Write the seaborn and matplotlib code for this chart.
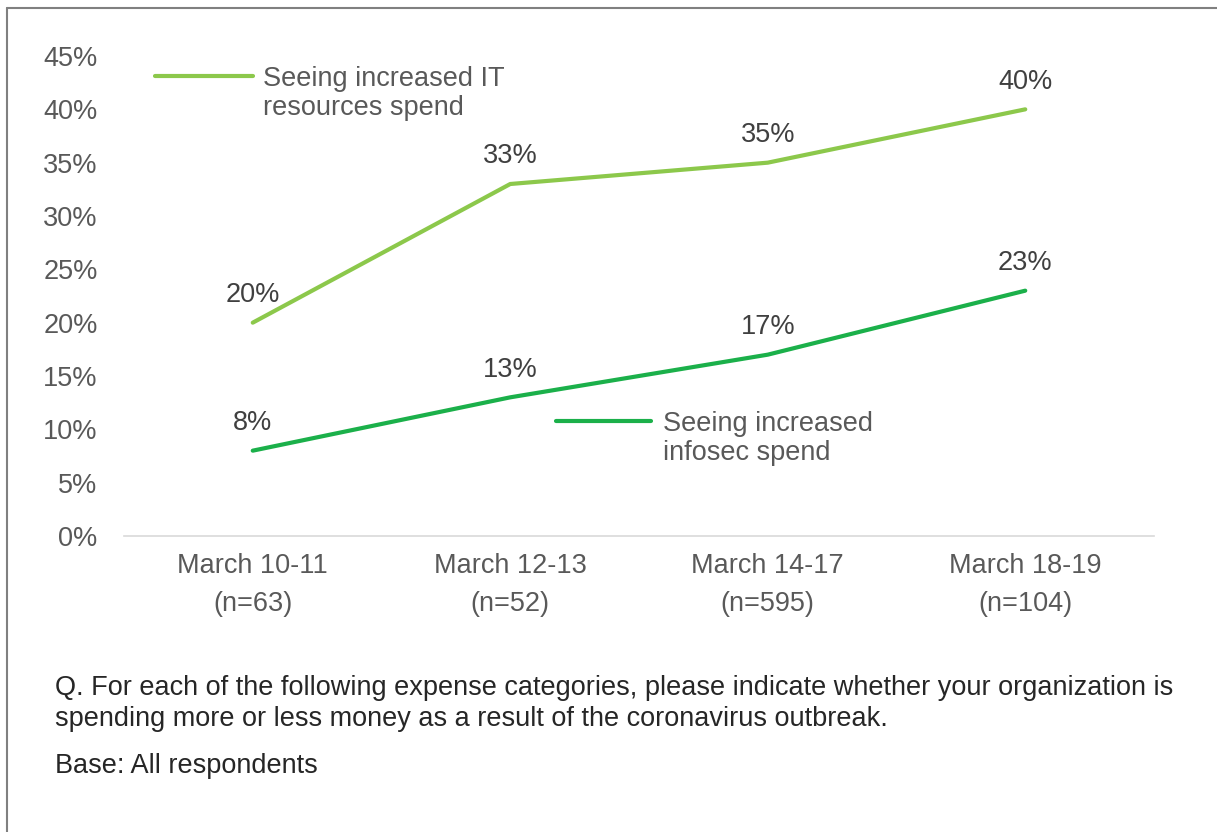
import matplotlib
matplotlib.use("Agg")
import matplotlib.pyplot as plt
from matplotlib.lines import Line2D
import seaborn as sns
import pandas as pd

categories = ["March 10-11\n(n=63)", "March 12-13\n(n=52)", "March 14-17\n(n=595)", "March 18-19\n(n=104)"]
it_spend = [20, 33, 35, 40]
infosec_spend = [8, 13, 17, 23]
series_names = ["Seeing increased IT\nresources spend", "Seeing increased\ninfosec spend"]
yticks = [0, 5, 10, 15, 20, 25, 30, 35, 40, 45]
footnote1 = "Q. For each of the following expense categories, please indicate whether your organization is\nspending more or less money as a result of the coronavirus outbreak."
footnote2 = "Base: All respondents"

colors = ["#8cc84b", "#1bb04a"]

df = pd.DataFrame({
    "period": list(range(len(categories))) * 2,
    "value": it_spend + infosec_spend,
    "series": [series_names[0]] * 4 + [series_names[1]] * 4,
})

sns.set_theme(style="white")
plt.rcParams["font.family"] = ["Liberation Sans", "DejaVu Sans"]

W, H = 1217, 832
fig = plt.figure(figsize=(W / 100, H / 100), dpi=100)
ax = fig.add_axes([124 / W, 1 - 536 / H, (1154 - 124) / W, (536 - 56) / H])

sns.lineplot(data=df, x="period", y="value", hue="series", palette=colors,
             linewidth=3, ax=ax, legend=False)

fs = 19.5
ax.set_xlim(-0.5, 3.5)
ax.set_ylim(0, 45)
ax.set_yticks(yticks)
ax.set_yticklabels([f"{v}%" for v in yticks])
ax.set_xticks(range(len(categories)))
ax.set_xticklabels(categories, linespacing=1.62)
ax.set_xlabel("")
ax.set_ylabel("")
ax.tick_params(axis="y", length=0, pad=19, labelsize=fs, labelcolor="#595959")
ax.tick_params(axis="x", length=0, pad=12, labelsize=fs, labelcolor="#595959")
for s in ["top", "right", "left"]:
    ax.spines[s].set_visible(False)
ax.spines["bottom"].set_color("#d9d9d9")
ax.spines["bottom"].set_linewidth(1.2)

for vals in (it_spend, infosec_spend):
    for i, v in enumerate(vals):
        ax.annotate(f"{v}%", (i, v), xytext=(0, 20), textcoords="offset points",
                    ha="center", va="center", fontsize=fs, color="#404040")

# legend 1
h1 = Line2D([], [], color=colors[0], linewidth=3, solid_capstyle="round")
blank = Line2D([], [], color="none")
leg1 = ax.legend([h1, blank], ["Seeing increased IT", "resources spend"],
                 loc="upper left", bbox_to_anchor=(155 / W, 1 - 65.5 / H),
                 bbox_transform=fig.transFigure, frameon=False, fontsize=fs,
                 handlelength=3.6, handletextpad=0.37, labelspacing=0.14,
                 borderpad=0, borderaxespad=0, labelcolor="#595959")
ax.add_artist(leg1)
h2 = Line2D([], [], color=colors[1], linewidth=3, solid_capstyle="round")
leg2 = ax.legend([h2, blank], ["Seeing increased", "infosec spend"],
                 loc="upper left", bbox_to_anchor=(556 / W, 1 - 410.5 / H),
                 bbox_transform=fig.transFigure, frameon=False, fontsize=fs,
                 handlelength=3.5, handletextpad=0.44, labelspacing=0.14,
                 borderpad=0, borderaxespad=0, labelcolor="#595959")

fig.text(55 / W, 1 - 675 / H, footnote1, ha="left", va="top", fontsize=19.5,
         color="#262626", linespacing=1.27)
fig.text(55 / W, 1 - 766 / H, footnote2, ha="left", va="center", fontsize=19.5,
         color="#262626")

# frame
fig.add_artist(Line2D([7 / W, 7 / W], [0, 1 - 8 / H], color="#808080", linewidth=1.5,
                      transform=fig.transFigure))
fig.add_artist(Line2D([7 / W, 1], [1 - 8 / H, 1 - 8 / H], color="#808080", linewidth=1.5,
                      transform=fig.transFigure))

fig.savefig("out.png", dpi=100)
